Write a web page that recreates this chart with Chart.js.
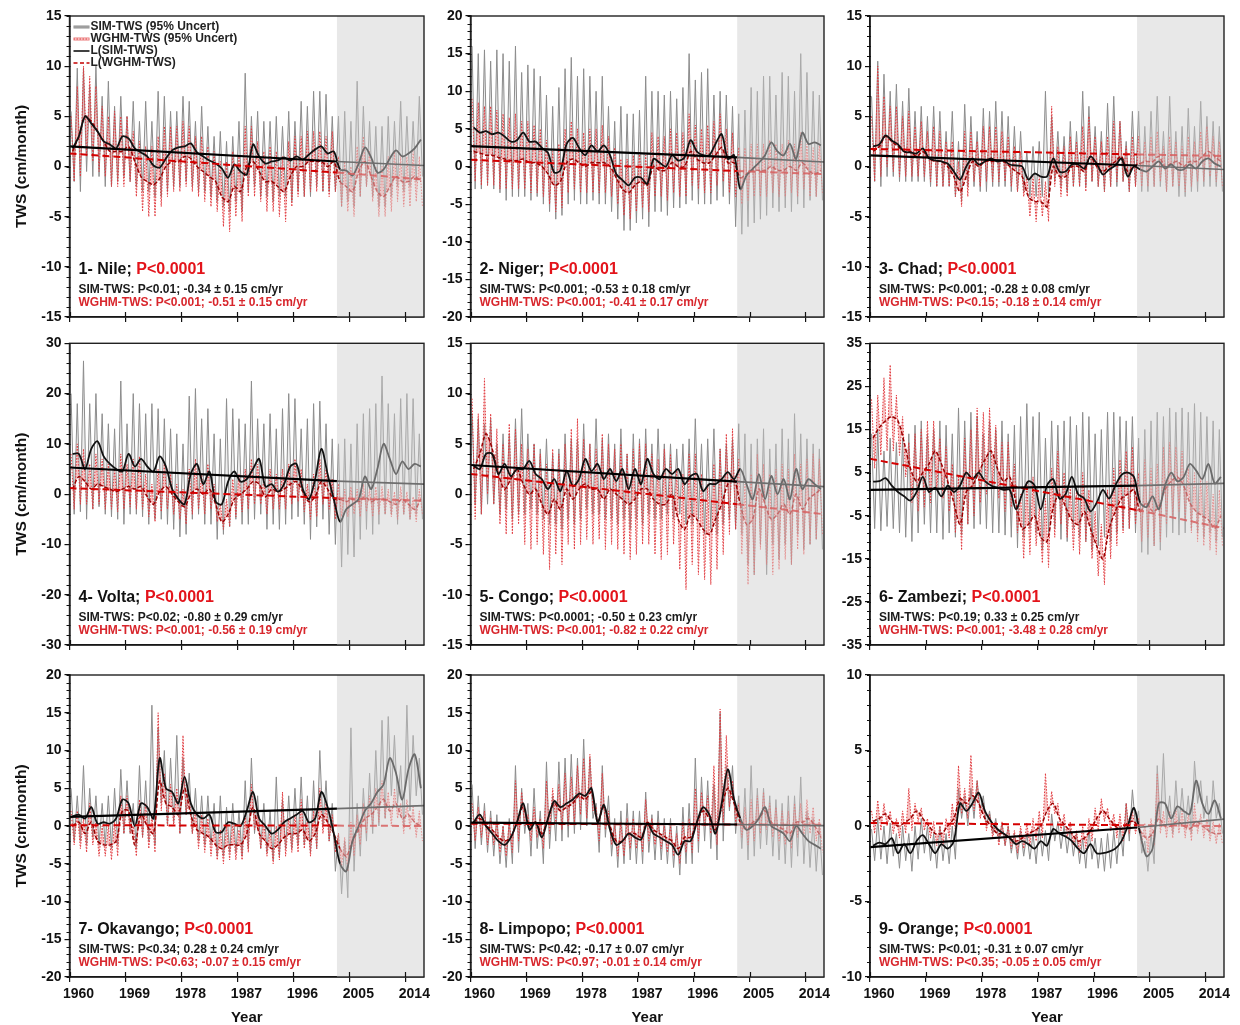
<!DOCTYPE html>
<html><head><meta charset="utf-8">
<script src="https://cdn.jsdelivr.net/npm/chart.js"></script>
<style>
html,body{margin:0;padding:0;background:#fff;}
#wrap{position:relative;width:1240px;height:1025px;overflow:hidden;background:#fff;}
#wrap canvas{position:absolute;}
</style></head><body><div id="wrap"></div>
<script>
// ---------------- DATA ----------------
const years = [1960,1961,1962,1963,1964,1965,1966,1967,1968,1969,1970,1971,1972,1973,1974,1975,1976,1977,1978,1979,1980,1981,1982,1983,1984,1985,1986,1987,1988,1989,1990,1991,1992,1993,1994,1995,1996,1997,1998,1999,2000,2001,2002,2003,2004,2005,2006,2007,2008,2009,2010,2011,2012,2013,2014,2015,2016];
const xTickYears = [1960,1969,1978,1987,1996,2005,2014];
const trendYears = [1960,2003,2017];
const yTicks15 = [-15,-10,-5,0,5,10,15];
const yTicks20 = [-20,-15,-10,-5,0,5,10,15,20];
const yTicks30 = [-30,-20,-10,0,10,20,30];
const yTicks35 = [-35,-25,-15,-5,5,15,25,35];
const yTicks10 = [-10,-5,0,5,10];

const basinNames = ['1- Nile','2- Niger','3- Chad','4- Volta','5- Congo','6- Zambezi','7- Okavango','8- Limpopo','9- Orange'];
const basinP = ['P<0.0001','P<0.0001','P<0.0001','P<0.0001','P<0.0001','P<0.0001','P<0.0001','P<0.0001','P<0.0001'];
const simStats = ['SIM-TWS: P<0.01; -0.34 ± 0.15 cm/yr','SIM-TWS: P<0.001; -0.53 ± 0.18 cm/yr','SIM-TWS: P<0.001; -0.28 ± 0.08 cm/yr','SIM-TWS: P<0.02; -0.80 ± 0.29 cm/yr','SIM-TWS: P<0.0001; -0.50 ± 0.23 cm/yr','SIM-TWS: P<0.19; 0.33 ± 0.25 cm/yr','SIM-TWS: P<0.34; 0.28 ± 0.24 cm/yr','SIM-TWS: P<0.42; -0.17 ± 0.07 cm/yr','SIM-TWS: P<0.01; -0.31 ± 0.07 cm/yr'];
const wgStats = ['WGHM-TWS: P<0.001; -0.51 ± 0.15 cm/yr','WGHM-TWS: P<0.001; -0.41 ± 0.17 cm/yr','WGHM-TWS: P<0.15; -0.18 ± 0.14 cm/yr','WGHM-TWS: P<0.001; -0.56 ± 0.19 cm/yr','WGHM-TWS: P<0.001; -0.82 ± 0.22 cm/yr','WGHM-TWS: P<0.001; -3.48 ± 0.28 cm/yr','WGHM-TWS: P<0.63; -0.07 ± 0.15 cm/yr','WGHM-TWS: P<0.97; -0.01 ± 0.14 cm/yr','WGHM-TWS: P<0.35; -0.05 ± 0.05 cm/yr'];
const legendLabels = ['SIM-TWS (95% Uncert)','WGHM-TWS (95% Uncert)','L(SIM-TWS)','L(WGHM-TWS)'];

// 1 Nile
const nileSimSm = [1.8,3.0,5.0,4.3,3.5,2.5,2.2,1.8,3.0,2.8, 1.8,1.4,1.0,0.1,-0.1,0.8,1.6,1.9,2.0,2.3, 1.4,1.0,0.6,0.3,-0.2,-1.1,0.2,-0.5,-0.8,2.2, 1.0,0.3,0.5,0.6,0.9,0.6,1.0,0.7,1.2,1.7, 2.0,1.3,1.5,-0.3,-0.4,-0.9,0.3,1.9,0.9,-0.6, -0.3,0.8,1.6,1.0,1.3,1.8,2.7];
const nileSimHi = [5.5,9.8,9.8,8.0,10.0,7.0,8.5,6.0,7.0,5.0, 6.5,4.5,6.5,4.5,7.5,7.0,5.5,5.5,7.0,6.5, 4.5,6.0,4.0,3.0,3.5,2.5,3.0,4.5,9.3,5.0, 5.5,4.5,4.5,5.0,4.0,5.5,4.5,6.5,6.0,7.5, 7.5,7.2,5.0,5.0,5.5,4.5,8.5,6.0,4.5,4.0, 4.0,5.0,4.5,6.5,5.0,4.5,7.0];
const nileSimLo = [-1.5,-2.5,-0.5,-1.0,-1.0,-2.0,-2.0,-1.5,-1.0,-1.5, -2.0,-2.5,-2.5,-3.0,-3.0,-2.5,-2.0,-2.0,-1.5,-2.0, -2.5,-2.5,-3.0,-3.5,-4.0,-4.5,-3.5,-4.5,-2.5,-2.0, -3.0,-3.0,-3.5,-3.0,-3.0,-3.5,-2.5,-3.0,-3.0,-2.0, -2.5,-2.5,-2.5,-4.0,-3.5,-4.0,-3.0,-2.0,-3.0,-4.0, -4.0,-3.0,-2.0,-2.5,-2.0,-1.5,-1.0];
const nileWgSm = [1.5,3.0,5.0,4.5,3.5,2.5,1.5,1.5,1.5,2.0, 0.5,-1.0,-1.5,-1.8,-1.2,0.0,0.5,0.5,1.0,0.8, 0.0,-0.5,-1.0,-1.5,-3.0,-3.5,-2.0,-2.5,0.0,0.5, -0.5,-1.5,-1.5,-2.0,-2.5,-1.0,0.0,0.0,0.5,0.5, 0.5,0.0,0.5,-1.5,-2.0,-2.5,-0.5,0.5,-1.0,-2.5, -3.0,-2.0,-1.0,-1.5,-1.5,-1.0,-1.5];
const nileWgHi = [5.0,8.0,10.0,9.0,8.0,6.0,5.0,5.5,5.0,5.0, 3.5,2.5,2.0,2.0,3.0,4.0,4.0,4.0,4.5,4.0, 3.0,3.0,2.0,1.5,0.5,0.5,1.5,1.0,4.0,4.0, 2.5,1.5,2.0,1.5,1.0,2.5,3.0,3.0,3.5,3.5, 3.5,3.0,3.5,1.0,0.5,0.0,2.0,3.0,1.5,0.0, 0.0,1.0,1.5,1.0,1.0,1.5,1.0];
const nileWgLo = [-1.5,-1.0,1.0,0.5,-0.5,-1.0,-2.0,-2.0,-2.0,-1.5, -3.0,-4.5,-5.0,-5.0,-4.0,-3.0,-2.5,-2.5,-2.0,-2.5, -3.0,-3.5,-4.0,-4.5,-6.0,-6.5,-5.0,-5.5,-3.0,-3.0, -3.5,-4.5,-4.5,-5.0,-5.5,-4.0,-3.0,-3.0,-2.5,-2.5, -2.5,-3.0,-2.5,-4.0,-4.5,-5.0,-3.0,-2.0,-3.5,-5.0, -5.0,-4.5,-3.5,-4.0,-4.0,-3.5,-4.0];
const nileTrSim = [2.0,0.5,0.1];
const nileTrWg = [1.3,-0.6,-1.3];

// 2 Niger
const nigerSimSm = [5.2,4.5,4.7,4.3,4.5,4.0,3.3,3.5,4.5,3.3, 3.3,2.5,1.8,-0.8,-0.5,3.0,3.8,2.5,1.5,2.8, 2.0,2.8,1.5,-1.0,-1.8,-2.5,-1.5,-1.5,-2.3,1.0, 0.5,0.0,1.5,0.8,1.2,3.5,2.0,1.5,1.5,3.0, 4.3,1.0,1.5,-3.0,-1.2,-0.3,0.5,1.5,3.2,2.0, 1.5,3.0,1.0,4.5,3.0,3.2,2.8];
const nigerSimHi = [16.0,15.0,15.5,14.0,15.5,15.0,14.0,16.0,12.5,13.5, 13.0,12.0,9.5,8.0,10.5,13.0,14.5,12.0,13.0,12.0, 10.0,12.0,8.0,6.0,8.0,7.0,7.0,7.5,12.0,10.0, 10.0,9.5,10.0,9.0,10.5,15.0,11.5,12.5,13.0,9.5, 10.0,9.5,8.0,7.0,7.5,10.5,10.0,12.0,12.0,9.5, 12.5,12.0,10.0,15.0,12.5,10.0,9.5];
const nigerSimLo = [-3.0,-3.0,-2.5,-3.0,-3.5,-4.5,-4.0,-4.0,-4.0,-4.5, -4.0,-5.0,-6.0,-7.0,-6.5,-5.0,-4.5,-5.0,-5.0,-4.5, -5.0,-5.0,-6.0,-7.0,-8.5,-8.5,-7.5,-7.0,-8.0,-6.0, -6.0,-6.5,-5.5,-5.5,-5.0,-4.5,-5.0,-5.0,-5.0,-4.5, -4.0,-5.0,-8.0,-9.0,-8.0,-7.5,-7.0,-6.5,-5.5,-6.0, -5.5,-6.0,-5.0,-5.5,-4.5,-4.0,-4.5];
const nigerWgSm = [2.0,1.8,1.5,1.5,1.2,1.0,0.8,0.8,1.0,0.5, 0.5,0.0,-1.0,-2.5,-2.0,0.5,1.0,0.5,0.0,0.5, 0.5,0.5,0.0,-1.5,-3.0,-3.5,-2.5,-2.0,-2.5,0.0, -0.5,-0.5,0.5,0.0,0.0,2.0,1.0,0.5,0.5,1.5, 2.5,0.5,0.5,-1.5,-1.0,-0.5,-0.5,-0.5,0.0,-0.5, -0.5,0.0,-0.5,0.5,-0.5,-1.0,-0.5];
const nigerWgHi = [9.0,8.5,8.0,8.0,7.5,7.0,6.5,7.0,6.0,6.0, 5.5,5.0,3.5,2.0,3.0,5.0,6.0,5.0,4.5,5.0, 5.0,5.5,4.0,2.5,1.0,1.0,1.5,2.0,1.5,4.5, 4.0,4.0,5.0,4.5,4.5,7.0,5.5,5.0,5.5,6.0, 7.0,5.0,4.5,2.5,2.5,3.0,3.0,3.0,3.5,3.0, 3.0,3.5,3.0,4.5,3.0,2.5,3.0];
const nigerWgLo = [-2.0,-2.5,-2.5,-2.5,-3.0,-3.0,-3.0,-3.0,-3.0,-3.5, -3.5,-4.0,-5.0,-6.0,-5.5,-3.5,-3.0,-3.5,-3.5,-3.5, -3.5,-3.5,-4.0,-5.0,-6.5,-7.0,-6.0,-5.5,-6.0,-4.0, -4.0,-4.5,-3.5,-4.0,-4.0,-2.5,-3.0,-3.5,-3.5,-2.5, -2.0,-3.5,-4.0,-5.0,-4.5,-4.0,-4.0,-4.0,-3.5,-4.0, -4.0,-3.5,-4.0,-3.0,-4.0,-4.0,-3.5];
const nigerTrSim = [2.7,1.2,0.6];
const nigerTrWg = [0.9,-0.6,-1.0];

// 3 Chad
const chadSimSm = [2.0,2.2,3.1,2.6,2.2,1.5,1.4,1.3,1.8,0.8, 0.6,0.5,0.3,-0.5,-1.3,0.0,0.8,0.2,0.5,0.8, 0.5,0.6,0.2,0.1,0.0,-1.3,-0.7,-1.0,-1.0,0.8, -0.5,-0.5,0.2,0.2,-0.2,1.0,0.3,-0.8,-0.3,0.1, 0.8,-1.0,0.0,-0.3,-0.5,0.0,0.5,-0.2,0.2,-0.3, -0.3,0.2,-0.2,0.5,0.8,0.3,0.0];
const chadSimHi = [7.0,10.5,9.2,7.5,8.2,6.5,7.8,5.5,6.0,5.0, 6.0,5.5,3.5,5.5,2.5,6.2,5.0,3.5,5.8,5.5, 6.5,5.5,5.0,4.0,3.5,1.5,2.0,2.5,7.5,5.0, 3.5,3.0,4.5,3.5,7.5,6.0,4.0,3.5,6.3,7.0, 4.5,2.5,5.5,5.5,4.0,5.5,7.0,3.5,7.0,3.5, 4.0,5.8,4.0,6.5,5.0,4.5,4.0];
const chadSimLo = [-1.5,-2.0,-1.0,-1.0,-1.5,-1.5,-1.5,-1.5,-1.5,-2.0, -2.0,-2.0,-2.0,-3.0,-3.5,-2.0,-2.0,-2.5,-2.5,-2.0, -2.0,-2.0,-2.5,-2.5,-2.5,-3.0,-3.0,-3.0,-3.0,-1.5, -2.0,-2.5,-2.0,-2.0,-2.0,-1.5,-2.0,-2.5,-2.0,-2.0, -1.5,-2.5,-2.0,-2.5,-2.5,-2.0,-2.0,-2.5,-2.0,-3.0, -3.0,-2.5,-2.5,-2.0,-2.0,-2.0,-2.5];
const chadWgSm = [1.5,2.0,3.0,2.5,2.0,1.5,1.5,1.0,1.5,0.8, 0.5,0.5,0.0,-1.0,-2.5,-1.0,0.5,0.0,0.5,0.5, 0.5,0.5,0.0,-0.5,-1.0,-3.0,-3.5,-3.5,-4.0,0.0, -1.0,-1.0,0.0,0.0,-0.5,1.0,0.0,-0.5,0.0,0.5, 1.0,-0.5,0.0,0.3,0.5,0.5,1.0,0.0,0.3,0.5, 0.0,0.5,0.5,1.0,1.5,1.0,0.5];
const chadWgHi = [5.0,10.0,7.0,6.0,6.0,5.0,5.5,4.0,4.5,3.5, 4.0,3.5,2.5,2.5,0.5,3.5,3.5,2.5,4.0,4.0, 4.0,3.5,3.0,2.0,1.5,-1.0,-1.0,-1.0,-1.5,6.0, 2.0,2.0,3.0,2.5,4.0,5.0,3.0,2.5,3.0,4.5, 4.5,2.0,3.0,3.0,2.5,3.0,3.5,2.0,3.0,2.5, 2.0,3.0,2.5,3.5,4.0,3.0,2.5];
const chadWgLo = [-1.5,-1.0,0.0,-0.5,-1.0,-1.0,-1.0,-1.0,-1.0,-1.5, -2.0,-2.0,-2.0,-3.0,-4.0,-3.0,-1.5,-2.0,-1.5,-1.5, -1.5,-1.5,-2.0,-2.5,-3.0,-5.0,-5.5,-5.0,-5.5,-2.0, -3.0,-3.0,-2.0,-2.0,-2.5,-1.5,-2.0,-2.5,-2.0,-1.5, -1.5,-2.5,-2.0,-2.0,-2.0,-2.0,-1.5,-2.5,-2.0,-2.0, -2.5,-2.0,-1.5,-1.5,-1.0,-1.5,-2.0];
const chadTrSim = [1.1,0.1,-0.3];
const chadTrWg = [1.75,1.2,1.05];

// 4 Volta
const voltaSimSm = [8.0,8.0,5.0,9.0,10.5,7.5,6.0,5.0,4.5,8.0, 5.5,7.0,5.5,4.5,7.5,5.5,1.0,-1.0,-2.0,4.0, 6.0,2.0,4.5,-1.5,-2.0,2.5,4.5,2.5,3.0,5.0, 7.0,1.5,2.0,0.5,2.0,5.5,6.0,1.0,-1.0,3.0, 9.0,4.0,-1.0,-5.5,-3.0,-2.0,-1.0,3.5,1.0,5.0, 10.0,7.0,4.0,6.5,5.0,6.0,5.5];
const voltaSimHi = [20.0,18.0,26.5,18.0,20.0,16.0,14.0,13.0,22.5,14.0, 20.0,18.0,16.0,18.0,17.0,15.0,13.0,12.0,10.0,19.5, 21.0,15.0,17.0,12.0,11.0,19.0,17.0,15.0,14.0,22.5, 15.0,14.0,16.0,13.0,17.0,20.0,19.0,13.0,15.0,18.0, 18.5,14.0,11.0,10.0,11.0,10.0,14.0,16.0,17.0,18.0, 23.5,18.0,16.0,19.0,20.0,19.0,12.0];
const voltaSimLo = [-4.0,-3.5,-5.0,-3.0,-2.5,-4.0,-4.5,-5.0,-6.0,-4.0, -4.0,-4.5,-6.0,-5.0,-5.0,-6.0,-7.0,-8.5,-8.0,-5.0, -4.0,-6.0,-6.0,-9.0,-8.0,-6.5,-5.0,-6.0,-6.0,-5.0, -4.0,-7.0,-6.0,-7.0,-6.0,-5.0,-4.5,-6.0,-9.0,-6.5, -5.0,-8.0,-10.0,-14.5,-12.0,-12.5,-9.0,-7.0,-8.0,-6.0, -4.0,-4.0,-6.0,-4.0,-5.0,-4.0,-5.0];
const voltaWgSm = [1.0,3.5,2.5,1.0,2.0,1.5,1.0,0.5,1.0,1.5, 1.0,1.5,-0.5,-2.0,0.5,1.5,0.0,-1.5,-2.5,0.0, 1.0,0.0,1.0,-2.0,-5.5,-4.0,-1.0,0.0,1.0,2.5, 2.0,-0.5,1.0,0.5,1.0,2.0,2.5,0.5,-1.5,-0.5, 2.5,1.0,-1.0,-1.0,-1.5,-1.0,-1.5,-0.5,-1.5,-1.0, -1.0,-1.5,-2.0,-1.0,-2.0,-3.0,-1.0];
const voltaWgHi = [8.0,10.0,9.0,6.0,8.0,7.0,6.0,5.0,8.0,6.0, 7.0,7.5,4.0,2.0,5.0,6.0,4.0,2.0,1.0,5.0, 7.0,4.0,6.0,2.0,-2.0,-1.0,3.0,4.0,5.0,7.0, 6.0,3.0,5.0,4.0,5.0,6.0,7.0,5.0,2.0,4.0, 7.0,5.0,3.0,2.0,1.0,1.5,1.0,2.0,1.0,1.5, 1.5,1.0,0.5,1.5,0.5,-0.5,1.0];
const voltaWgLo = [-3.0,-2.0,-2.0,-3.0,-2.0,-3.0,-3.0,-3.5,-3.0,-2.5, -3.0,-3.0,-4.5,-5.5,-3.5,-3.0,-4.0,-5.0,-6.0,-4.0, -3.0,-4.0,-3.0,-5.5,-7.0,-6.5,-4.5,-3.5,-3.0,-2.0, -2.0,-4.0,-3.0,-3.0,-3.0,-2.0,-1.5,-3.5,-5.0,-4.5, -2.0,-3.0,-5.0,-4.5,-4.5,-4.0,-4.5,-3.5,-4.5,-4.0, -4.0,-4.5,-5.0,-4.0,-5.0,-5.5,-4.0];
const voltaTrSim = [5.3,2.6,2.0];
const voltaTrWg = [1.2,-0.8,-1.3];

// 5 Congo
const congoSimSm = [2.8,2.5,4.0,4.0,2.0,3.0,1.8,2.5,2.5,3.3, 2.0,1.5,0.5,1.5,0.3,2.3,0.8,1.5,3.5,2.3, 3.0,1.5,2.5,1.3,2.5,0.5,2.5,1.0,3.5,2.0, 1.5,2.5,2.0,2.5,1.0,1.8,2.0,0.3,1.0,1.0, 1.5,2.2,1.5,2.5,1.0,-0.5,2.0,-0.5,1.8,0.0, 1.5,-0.5,2.5,0.5,1.5,1.0,0.5];
const congoSimHi = [8.0,7.5,7.0,7.5,5.0,6.0,6.0,7.5,8.5,6.0, 5.0,4.5,5.5,4.0,4.5,6.0,5.5,5.5,7.0,5.0, 7.5,5.5,6.0,5.0,6.5,4.0,6.0,5.5,6.5,5.0, 6.5,5.0,5.0,4.5,5.0,5.5,7.5,5.0,5.5,6.5, 4.5,5.0,5.5,7.0,6.0,5.0,5.5,6.5,4.5,5.0, 6.5,5.5,8.0,6.0,5.5,5.0,4.5];
const congoSimLo = [-1.0,-2.0,-1.0,-1.0,-2.0,-1.5,-2.5,-2.0,-2.0,-1.5, -2.0,-2.5,-3.0,-3.0,-3.5,-2.5,-3.0,-2.5,-1.5,-2.0, -2.0,-2.5,-2.5,-3.0,-2.5,-3.5,-2.5,-3.0,-2.0,-2.5, -2.5,-2.0,-2.5,-2.0,-3.0,-3.0,-2.5,-4.0,-3.5,-4.0, -3.0,-2.5,-3.5,-4.0,-7.0,-8.0,-5.0,-8.0,-5.0,-6.5, -5.0,-7.0,-4.0,-5.5,-5.0,-4.5,-5.5];
const congoWgSm = [2.5,4.0,6.0,4.5,2.0,0.5,1.5,2.5,1.0,0.0, 0.5,-1.0,-2.0,-0.5,-1.5,0.5,-0.5,0.5,1.0,0.5, 0.5,-0.5,0.5,0.0,-0.5,-1.0,-0.5,0.5,0.5,-0.5, -1.0,-1.0,0.0,-2.5,-3.5,-2.0,-2.5,-3.5,-4.0,-2.5, -1.0,1.0,1.5,-1.0,-3.0,-2.5,0.5,-1.0,-2.5,-2.0, -1.0,-2.0,0.0,-1.5,-0.5,0.0,0.5];
const congoWgHi = [9.5,8.0,11.5,8.0,6.5,5.0,7.0,6.5,5.0,4.5, 5.0,4.0,3.0,4.5,4.0,5.0,6.5,7.5,5.5,5.0, 4.5,6.0,5.0,4.5,5.0,4.0,4.5,5.0,5.0,4.0, 3.5,4.5,4.0,2.5,2.0,4.0,4.0,2.0,1.0,3.0, 4.5,6.0,6.5,3.5,1.0,2.0,4.0,3.0,2.0,2.5, 3.0,2.5,4.0,3.0,3.5,4.0,3.5];
const congoWgLo = [-2.5,-2.0,0.0,-1.0,-3.0,-4.0,-4.0,-3.0,-5.0,-5.5, -5.0,-6.0,-7.5,-6.0,-7.0,-5.0,-5.5,-5.0,-4.5,-5.0, -4.5,-5.5,-5.0,-5.5,-6.0,-6.5,-6.0,-5.0,-5.0,-6.0, -6.5,-6.0,-5.0,-7.5,-9.5,-7.0,-8.0,-8.5,-9.0,-7.5, -6.0,-4.0,-3.5,-6.0,-9.0,-8.0,-5.5,-7.0,-8.0,-7.5, -6.5,-7.0,-5.5,-6.0,-5.0,-4.5,-4.0];
const congoTrSim = [2.9,1.25,0.75];
const congoTrWg = [2.0,-1.0,-2.0];

// 6 Zambezi
const zambSimSm = [2.9,3.0,3.7,2.0,0.5,-0.5,-1.5,0.5,4.0,0.5, 1.5,-0.5,2.0,0.5,2.0,5.0,3.5,5.0,3.0,2.0, 1.5,1.0,1.0,-3.5,0.0,3.0,2.0,-3.5,2.0,3.5, -1.0,0.0,4.0,0.0,-1.0,-4.0,-2.0,1.0,-1.0,2.0, 4.5,5.0,4.0,-2.0,-3.0,-0.5,-3.5,2.0,5.0,3.0, 4.0,7.0,5.5,3.5,7.0,2.5,4.0];
const zambSimHi = [14.0,15.0,10.0,13.0,12.0,13.0,14.0,16.0,17.0,14.0, 15.0,17.0,16.0,14.0,20.0,17.0,19.0,18.0,14.0,17.0, 15.0,17.0,14.0,16.0,18.0,21.0,18.0,19.0,13.0,17.0, 16.0,17.0,18.0,16.0,19.0,18.0,14.0,15.0,19.0,19.0, 18.0,17.0,18.0,13.0,15.0,17.0,19.0,18.0,20.0,19.0, 20.0,19.0,21.0,19.0,18.0,17.0,15.0];
const zambSimLo = [-8.0,-8.5,-7.5,-8.0,-9.0,-10.0,-11.0,-9.0,-7.0,-9.0, -9.0,-10.5,-9.0,-10.0,-9.5,-7.0,-8.0,-7.0,-8.0,-9.0, -9.0,-9.5,-10.0,-12.5,-10.0,-8.0,-9.0,-13.0,-9.0,-8.0, -10.5,-11.0,-8.0,-10.0,-11.0,-13.0,-12.0,-10.0,-11.0,-9.0, -8.0,-8.0,-9.0,-13.5,-14.0,-12.0,-13.0,-10.0,-9.0,-9.5, -9.0,-8.0,-9.0,-10.0,-9.0,-11.0,-10.0];
const zambWgSm = [13.0,15.5,17.0,18.0,17.0,12.0,6.0,3.0,5.0,7.0, 10.0,7.0,3.0,-2.0,-7.0,0.5,2.0,5.0,8.0,10.0, 6.0,3.0,4.0,-2.0,-8.0,-7.0,-5.0,-10.0,-11.0,-3.0, 0.0,-3.0,-6.0,-7.0,-4.0,-8.0,-12.0,-15.0,-8.0,-4.0, -1.0,0.0,1.0,-4.0,-2.0,-4.0,-3.0,1.0,3.0,4.0, 2.0,-2.0,-4.0,-5.0,-6.0,-8.0,-5.0];
const zambWgHi = [22.0,23.0,27.0,30.0,23.0,18.0,12.0,14.0,15.0,17.0, 17.0,13.0,11.0,7.0,4.0,13.0,15.0,20.0,19.0,20.0, 16.0,12.0,12.0,7.0,0.0,3.0,4.0,-3.0,-1.0,6.0, 10.0,5.0,2.0,1.0,5.0,1.0,-4.0,-7.0,1.0,6.0, 8.0,10.0,11.0,5.0,8.0,6.0,7.0,11.0,12.0,11.0, 10.0,6.0,5.0,4.0,3.0,0.0,1.0];
const zambWgLo = [6.0,9.0,10.0,10.0,9.0,4.0,-2.0,-4.0,-3.0,-2.0, 1.0,-1.0,-4.0,-9.0,-13.0,-7.0,-5.0,-2.0,0.0,2.0, -1.0,-4.0,-3.0,-9.0,-15.0,-14.0,-12.0,-16.0,-17.0,-10.0, -7.0,-10.0,-13.0,-14.0,-11.0,-15.0,-19.0,-21.0,-15.0,-12.0, -9.0,-8.0,-7.0,-11.0,-10.0,-12.0,-11.0,-7.0,-5.0,-4.0, -6.0,-9.0,-11.0,-12.0,-13.0,-14.0,-12.0];
const zambTrSim = [1.0,2.0,2.5];
const zambTrWg = [8.2,-3.7,-7.9];

// 7 Okavango
const okaSimSm = [1.3,1.5,1.0,2.5,0.3,0.5,0.3,1.0,3.5,3.0, 0.0,3.0,2.5,1.0,9.0,5.0,4.5,3.0,6.5,3.0, 1.5,1.0,1.5,-0.8,-0.8,0.5,0.3,0.0,2.0,4.5, 1.0,0.0,-1.0,-0.5,0.5,1.0,1.5,2.0,0.5,1.0, 4.5,2.5,-1.0,-5.0,-6.0,-2.0,0.0,2.0,3.0,4.5, 5.5,9.0,7.0,3.5,7.5,9.5,5.0];
const okaSimHi = [5.0,4.0,8.0,5.0,4.0,3.0,4.0,5.0,7.5,6.0, 3.0,8.0,6.0,16.0,13.0,10.0,9.0,12.0,9.0,7.0, 5.0,4.0,4.0,3.0,4.0,2.5,3.0,2.0,6.0,9.0, 4.0,3.0,2.0,6.5,3.5,4.0,5.0,6.5,4.0,6.0, 10.0,6.0,3.0,-1.0,-2.0,13.0,3.0,5.0,7.0,10.0, 14.0,14.5,12.0,8.0,16.0,12.0,9.0];
const okaSimLo = [-2.0,-2.0,-2.5,-1.5,-2.5,-2.5,-3.0,-2.5,-1.0,-1.0, -3.0,-1.5,-2.0,-2.5,3.0,0.0,0.5,-1.0,1.5,-1.0, -2.0,-2.5,-2.5,-4.0,-4.0,-3.5,-3.5,-4.0,-3.0,-1.0, -3.0,-3.5,-4.5,-4.0,-3.0,-3.0,-2.5,-2.5,-3.5,-3.0, 0.0,-2.0,-6.0,-9.0,-9.5,-6.0,-4.0,-2.0,-1.0,0.0, 1.0,4.0,3.0,0.0,2.0,4.0,1.5];
const okaWgSm = [0.0,0.5,-1.0,0.5,-2.0,-2.5,-2.5,-2.0,2.0,2.0, -2.5,1.5,0.0,-1.0,6.0,3.0,2.5,1.5,5.0,1.5, -0.5,-1.0,-1.5,-2.5,-3.0,-2.5,-2.5,-2.5,-1.0,2.5, -1.0,-2.0,-3.0,-2.5,-1.5,-1.0,-1.0,-0.5,-2.0,-1.0, 1.5,0.5,-1.0,-3.0,-4.0,-2.0,-0.5,1.0,1.5,2.5, 3.5,2.0,3.0,1.0,1.5,0.5,0.0];
const okaWgHi = [2.0,2.0,1.0,3.0,0.5,0.0,0.0,0.5,4.0,4.0, 0.0,3.5,3.0,1.5,15.0,7.0,5.5,5.0,12.0,4.0, 2.0,1.5,1.0,0.0,-0.5,0.0,0.5,-0.5,1.5,5.5, 1.5,0.5,-0.5,0.0,4.5,1.0,1.5,3.5,1.0,2.0, 5.0,3.0,1.5,-1.0,-1.5,0.5,1.5,3.0,4.0,5.0, 6.0,4.5,5.0,3.0,3.5,2.5,2.0];
const okaWgLo = [-2.5,-3.0,-3.5,-2.5,-4.0,-4.0,-4.5,-4.0,-1.0,-1.0, -4.0,-1.5,-3.0,-3.5,2.0,0.0,0.0,-1.0,1.5,-1.0, -3.0,-3.5,-4.0,-4.5,-5.0,-4.5,-4.5,-4.5,-3.5,-0.5, -3.0,-4.0,-5.0,-4.5,-4.0,-3.5,-3.5,-3.0,-4.0,-3.0, -1.0,-2.0,-3.5,-5.5,-6.0,-4.0,-2.5,-1.0,0.0,0.5, 1.0,0.0,1.0,-1.0,-0.5,-1.5,-2.0];
const okaTrSim = [1.2,2.3,2.7];
const okaTrWg = [0.1,0.05,0.0];

// 8 Limpopo
const limSimSm = [0.5,1.5,0.0,-1.0,-2.0,-2.5,-1.5,0.5,3.0,-0.5, 0.5,-1.5,1.0,3.3,2.5,3.0,3.5,4.3,4.0,5.0, 0.5,2.8,-0.5,-2.5,-2.0,-1.0,-1.5,-1.8,0.3,-1.0, -1.5,-2.0,-2.5,-3.8,-2.0,-2.0,0.5,2.5,1.5,-1.0, 3.0,7.5,3.5,1.0,-0.5,0.0,1.0,2.5,0.0,-0.5, -1.0,-2.0,0.0,-1.0,-2.0,-2.5,-3.0];
const limSimHi = [5.5,4.0,3.0,2.0,1.5,0.0,1.0,8.0,5.0,3.0, 5.0,2.0,8.5,4.0,8.5,9.0,9.5,9.0,11.5,9.0, 3.0,8.0,4.0,1.0,2.0,3.0,2.0,2.0,4.5,1.5, 2.0,1.0,1.0,0.0,2.5,3.0,9.0,6.5,6.0,5.5, 15.0,8.0,8.0,4.0,5.0,8.0,5.0,5.0,4.0,3.5, 3.0,4.0,4.0,6.5,2.0,1.0,0.0];
const limSimLo = [-3.0,-2.5,-3.5,-4.0,-5.0,-5.5,-5.0,-3.5,-1.0,-4.0, -3.0,-5.0,-3.0,-2.0,-2.0,-1.5,-1.0,-0.5,0.0,1.0, -3.5,-1.5,-4.0,-5.5,-5.0,-4.5,-5.0,-5.0,-3.5,-4.5, -4.5,-5.0,-5.5,-6.5,-5.0,-5.0,-3.5,-2.0,-3.0,-4.5, -2.0,2.0,-1.0,-3.0,-4.5,-4.0,-3.0,-2.5,-4.0,-4.5, -5.0,-5.5,-4.0,-5.0,-5.5,-6.0,-6.5];
const limWgSm = [0.5,1.0,0.0,-0.5,-1.5,-2.0,-1.5,0.5,2.5,0.0, 0.5,-1.0,1.0,3.0,2.0,2.5,3.0,4.0,3.5,4.5, 0.5,2.5,0.0,-2.0,-2.0,-1.0,-1.0,-1.5,0.5,-0.5, -1.0,-1.5,-2.0,-3.0,-1.5,-1.5,0.5,2.0,1.0,-0.5, 2.5,5.0,3.0,0.5,-0.5,0.5,1.0,2.0,0.5,0.0, -0.5,-1.0,0.5,0.5,1.0,0.0,-1.5];
const limWgHi = [3.0,2.5,2.0,1.0,0.5,0.0,0.5,6.0,4.5,1.5, 2.5,1.0,6.0,5.0,5.5,7.0,6.5,8.0,9.0,9.5, 2.5,7.0,2.0,0.0,0.5,1.0,1.0,0.5,3.5,1.0, 0.5,0.0,0.0,-1.0,0.5,1.0,5.0,4.5,4.0,8.0, 15.5,12.0,6.0,3.0,2.5,3.5,4.0,4.5,3.0,2.5, 2.0,2.0,3.0,3.0,3.5,2.5,1.0];
const limWgLo = [-2.0,-1.5,-2.5,-2.5,-3.5,-4.0,-3.5,-2.0,0.0,-2.0, -1.5,-3.0,-1.0,0.5,-0.5,0.0,0.5,1.5,1.0,2.0, -2.0,-0.5,-2.5,-4.0,-4.0,-3.0,-3.0,-3.5,-2.0,-2.5, -3.0,-3.5,-4.0,-5.0,-3.5,-3.5,-2.0,0.0,-1.0,-2.5, 0.5,2.5,0.5,-1.5,-2.5,-2.0,-1.0,-0.5,-1.5,-2.0, -2.5,-3.0,-1.5,-1.5,-1.0,-2.0,-3.5];
const limTrSim = [0.45,0.2,0.05];
const limTrWg = [0.3,0.2,0.15];

// 9 Orange
const oraSimSm = [-1.3,-1.1,-1.2,-0.8,-1.8,-1.2,-1.8,-1.0,-0.6,-1.2, -1.8,-1.2,-1.5,-1.0,1.5,1.0,1.5,2.2,1.0,0.3, -0.2,-0.5,-0.8,-1.2,-1.0,-1.2,-1.5,-1.0,-1.3,-0.2, -0.5,-0.7,-1.0,-1.5,-1.8,-1.2,-1.8,-1.8,-1.7,-1.5, -1.0,0.0,1.2,-0.5,-2.0,-1.5,1.5,1.5,0.5,1.3, 1.0,0.8,3.0,1.5,0.8,1.7,0.5];
const oraSimHi = [-0.2,0.5,0.0,0.2,-0.5,0.0,-0.5,0.0,0.5,0.0, -0.5,0.0,-0.5,0.0,2.5,2.0,2.5,3.0,2.0,1.0, 0.5,0.2,0.0,-0.5,-0.3,-0.5,-0.5,0.0,-0.3,0.8, 0.3,0.0,-0.2,-0.5,-0.8,-0.2,-0.8,-0.8,-0.5,-0.3, 0.0,1.5,2.4,1.0,-1.0,-0.5,4.0,4.8,2.0,3.0, 2.5,2.0,4.3,3.0,2.0,3.0,1.5];
const oraSimLo = [-2.3,-2.2,-2.5,-2.0,-2.8,-2.3,-3.0,-2.2,-1.8,-2.3, -2.8,-2.3,-2.5,-2.2,0.5,0.0,0.5,1.0,0.0,-0.5, -1.0,-1.3,-1.8,-2.2,-2.0,-2.2,-2.5,-2.0,-2.3,-1.0, -1.5,-1.8,-2.0,-2.5,-2.8,-2.2,-2.8,-3.0,-2.8,-2.5, -2.0,-1.0,0.0,-1.8,-3.0,-2.5,0.0,0.0,-0.5,0.0, 0.0,-0.5,1.5,0.5,-0.5,0.5,-0.5];
const oraWgSm = [0.3,0.5,0.8,0.3,0.0,0.2,0.5,1.0,0.5,0.0, -0.5,-0.5,0.0,0.5,1.8,1.5,2.0,1.5,0.5,0.0, -0.5,-0.5,-0.8,-1.0,-0.8,-0.5,-0.3,0.0,1.0,1.5, 0.5,0.0,-0.5,-1.0,-0.8,-0.3,0.5,1.0,0.5,0.0, -0.2,0.2,0.3,-0.3,-0.8,-0.5,0.5,0.0,0.0,0.3, 0.0,-0.2,0.3,0.0,-0.3,-0.5,-0.5];
const oraWgHi = [1.0,1.7,1.5,1.0,0.5,1.0,2.5,1.5,1.2,0.5, 0.3,0.0,0.5,1.5,4.0,2.5,4.7,3.0,1.5,0.8, 0.3,0.3,0.0,-0.3,0.0,0.2,0.5,1.0,3.5,2.3, 1.5,0.8,0.3,-0.3,0.0,0.5,1.2,1.8,1.2,0.8, 0.8,1.5,1.0,0.5,0.2,0.5,3.5,1.0,1.0,1.2, 1.0,0.8,1.5,0.8,0.5,0.3,0.2];
const oraWgLo = [-0.5,-0.3,0.0,-0.5,-0.8,-0.5,-0.3,0.3,-0.3,-0.8, -1.3,-1.3,-0.8,-0.3,0.8,0.5,1.0,0.5,-0.3,-0.8, -1.3,-1.3,-1.5,-1.8,-1.5,-1.3,-1.0,-0.8,0.3,0.8, -0.3,-0.8,-1.3,-1.8,-1.5,-1.0,-0.3,0.3,-0.3,-0.8, -1.0,-0.5,-0.5,-1.2,-1.8,-1.3,-0.5,-0.8,-0.8,-0.5, -0.8,-1.0,-0.5,-0.8,-1.0,-1.2,-1.2];
const oraTrSim = [-1.4,-0.1,0.46];
const oraTrWg = [0.2,0.05,0.0];

// ---------------- LAYOUT / STYLE ----------------
const X_MIN = 1960, X_MAX = 2017, SHADE_FROM = 2003;
const COLS = [{x:0,w:430,yw:69.5,rp:6},{x:430,w:400,yw:40.5,rp:6},{x:830,w:400,yw:40,rp:6}];
const ROWS = [{y:0,h:330,top:16,xh:13},{y:330,h:330,top:13.3,xh:15},{y:660,h:365,top:15,xh:48}];
const FONT = '"Liberation Sans", Arial, Helvetica, sans-serif';
const RED = '#e3141b';

Chart.defaults.font.family = FONT;
Chart.defaults.color = '#000';
Chart.defaults.animation = false;

const panels = [
 {sm:nileSimSm, hi:nileSimHi, lo:nileSimLo, wsm:nileWgSm, whi:nileWgHi, wlo:nileWgLo, tS:nileTrSim, tW:nileTrWg, yMin:-15, yMax:15, ticks:yTicks15, minor:1},
 {sm:nigerSimSm, hi:nigerSimHi, lo:nigerSimLo, wsm:nigerWgSm, whi:nigerWgHi, wlo:nigerWgLo, tS:nigerTrSim, tW:nigerTrWg, yMin:-20, yMax:20, ticks:yTicks20, minor:1},
 {sm:chadSimSm, hi:chadSimHi, lo:chadSimLo, wsm:chadWgSm, whi:chadWgHi, wlo:chadWgLo, tS:chadTrSim, tW:chadTrWg, yMin:-15, yMax:15, ticks:yTicks15, minor:1},
 {sm:voltaSimSm, hi:voltaSimHi, lo:voltaSimLo, wsm:voltaWgSm, whi:voltaWgHi, wlo:voltaWgLo, tS:voltaTrSim, tW:voltaTrWg, yMin:-30, yMax:30, ticks:yTicks30, minor:2},
 {sm:congoSimSm, hi:congoSimHi, lo:congoSimLo, wsm:congoWgSm, whi:congoWgHi, wlo:congoWgLo, tS:congoTrSim, tW:congoTrWg, yMin:-15, yMax:15, ticks:yTicks15, minor:1},
 {sm:zambSimSm, hi:zambSimHi, lo:zambSimLo, wsm:zambWgSm, whi:zambWgHi, wlo:zambWgLo, tS:zambTrSim, tW:zambTrWg, yMin:-35, yMax:35, ticks:yTicks35, minor:2},
 {sm:okaSimSm, hi:okaSimHi, lo:okaSimLo, wsm:okaWgSm, whi:okaWgHi, wlo:okaWgLo, tS:okaTrSim, tW:okaTrWg, yMin:-20, yMax:20, ticks:yTicks20, minor:1},
 {sm:limSimSm, hi:limSimHi, lo:limSimLo, wsm:limWgSm, whi:limWgHi, wlo:limWgLo, tS:limTrSim, tW:limTrWg, yMin:-20, yMax:20, ticks:yTicks20, minor:1},
 {sm:oraSimSm, hi:oraSimHi, lo:oraSimLo, wsm:oraWgSm, whi:oraWgHi, wlo:oraWgLo, tS:oraTrSim, tW:oraTrWg, yMin:-10, yMax:10, ticks:yTicks10, minor:1}
];

function zig(hi, lo){ const pts=[]; years.forEach((y,i)=>{ pts.push({x:y+0.25,y:hi[i]}); pts.push({x:y+0.75,y:lo[i]}); }); return pts; }
function smooth(v){ return years.map((y,i)=>({x:y+0.5,y:v[i]})); }
function trend(v){ return trendYears.map((y,i)=>({x:y,y:v[i]})); }
const after = c => c.p0.parsed.x >= SHADE_FROM;
const seg = (dark, light) => ({ borderColor: c => after(c) ? light : dark });

const decor = {
  id: 'decor',
  beforeDatasetsDraw(chart){
    const {ctx, chartArea:a, scales:{x}} = chart;
    const xs = x.getPixelForValue(SHADE_FROM);
    ctx.save(); ctx.fillStyle = '#e8e8e8'; ctx.fillRect(xs, a.top, a.right - xs, a.bottom - a.top); ctx.restore();
  },
  afterDraw(chart){
    const {ctx, chartArea:a, scales:{x, y}} = chart;
    const o = chart.options.plugins.decor;
    ctx.save();
    ctx.strokeStyle = '#222'; ctx.lineWidth = 1.4;
    ctx.strokeRect(a.left, a.top, a.right - a.left, a.bottom - a.top);
    ctx.lineWidth = 1; ctx.strokeStyle = '#111';
    for (let v = o.yMin; v <= o.yMax + 1e-9; v += o.minor){
      const py = Math.round(y.getPixelForValue(v)) + 0.5;
      ctx.beginPath(); ctx.moveTo(a.left - 3, py); ctx.lineTo(a.left + 1, py); ctx.stroke();
    }
    ctx.lineWidth = 1.2;
    xTickYears.forEach(v => { const px = Math.round(x.getPixelForValue(v)) + 0.5; ctx.beginPath(); ctx.moveTo(px, a.bottom); ctx.lineTo(px, a.bottom - 5); ctx.stroke(); });
    ctx.textBaseline = 'middle'; ctx.textAlign = 'left';
    const tx = a.left + 9;
    ctx.font = 'bold 16px ' + FONT; ctx.fillStyle = '#111';
    const t1 = o.name + '; ';
    ctx.fillText(t1, tx, a.bottom - 47);
    const w1 = ctx.measureText(t1).width;
    ctx.fillStyle = RED; ctx.fillText(o.p, tx + w1, a.bottom - 47);
    ctx.font = 'bold 12px ' + FONT;
    ctx.fillStyle = '#1a1a1a'; ctx.fillText(o.s1, tx, a.bottom - 27.5);
    ctx.fillStyle = '#d8262c'; ctx.fillText(o.s2, tx, a.bottom - 14);
    if (o.legend){
      const lx0 = a.left + 4, lx1 = a.left + 20, ltx = a.left + 21;
      const rows = [a.top + 11, a.top + 23, a.top + 35, a.top + 47];
      ctx.lineCap = 'butt';
      ctx.strokeStyle = 'rgba(150,150,150,0.55)'; ctx.lineWidth = 4; ctx.setLineDash([]);
      ctx.beginPath(); ctx.moveTo(lx0, rows[0]); ctx.lineTo(lx1, rows[0]); ctx.stroke();
      ctx.strokeStyle = '#777'; ctx.lineWidth = 1;
      ctx.beginPath(); ctx.moveTo(lx0, rows[0]); ctx.lineTo(lx1, rows[0]); ctx.stroke();
      ctx.strokeStyle = 'rgba(235,120,120,0.5)'; ctx.lineWidth = 4;
      ctx.beginPath(); ctx.moveTo(lx0, rows[1]); ctx.lineTo(lx1, rows[1]); ctx.stroke();
      ctx.strokeStyle = '#e0393e'; ctx.lineWidth = 1; ctx.setLineDash([1.5,1.5]);
      ctx.beginPath(); ctx.moveTo(lx0, rows[1]); ctx.lineTo(lx1, rows[1]); ctx.stroke();
      ctx.setLineDash([]); ctx.strokeStyle = '#111'; ctx.lineWidth = 1.6;
      ctx.beginPath(); ctx.moveTo(lx0, rows[2]); ctx.lineTo(lx1, rows[2]); ctx.stroke();
      ctx.setLineDash([4,2.5]); ctx.strokeStyle = '#c40000'; ctx.lineWidth = 1.6;
      ctx.beginPath(); ctx.moveTo(lx0, rows[3]); ctx.lineTo(lx1, rows[3]); ctx.stroke();
      ctx.setLineDash([]);
      ctx.font = 'bold 12px ' + FONT; ctx.fillStyle = '#222';
      legendLabels.forEach((t,i) => ctx.fillText(t, ltx, rows[i]));
    }
    ctx.restore();
  }
};

const wrap = document.getElementById('wrap');
panels.forEach((p, idx) => {
  const col = idx % 3, row = Math.floor(idx / 3);
  const C = COLS[col], R = ROWS[row];
  const cv = document.createElement('canvas');
  cv.width = C.w; cv.height = R.h;
  cv.style.left = C.x + 'px'; cv.style.top = R.y + 'px';
  cv.style.width = C.w + 'px'; cv.style.height = R.h + 'px';
  wrap.appendChild(cv);
  new Chart(cv, {
    type: 'line',
    data: { datasets: [
      { data: trend(p.tS), borderColor:'#000', borderWidth:2.2, pointRadius:0, tension:0,
        segment: { borderColor: c => after(c) ? '#6e6e6e' : '#000', borderWidth: c => after(c) ? 1.7 : 2.2 } },
      { data: trend(p.tW), borderColor:'#d40000', borderWidth:2, borderDash:[7,4], pointRadius:0, tension:0,
        segment: { borderColor: c => after(c) ? 'rgba(215,95,95,0.85)' : '#d40000' } },
      { data: smooth(p.sm), borderColor:'#111', borderWidth:1.8, pointRadius:0, tension:0.3,
        segment: seg('#111', '#6a6a6a') },
      { data: smooth(p.wsm), borderColor:'#a00000', borderWidth:1.5, borderDash:[4,2], pointRadius:0, tension:0.3,
        segment: seg('#9a0000', 'rgba(190,80,80,0.75)') },
      { data: zig(p.whi, p.wlo), borderColor:'#e0393e', borderWidth:1, borderDash:[1.5,1.5], pointRadius:0, tension:0,
        fill: 3, backgroundColor:'rgba(232,80,80,0.34)',
        segment: { borderColor: c => after(c) ? 'rgba(225,120,120,0.75)' : '#e0393e',
                   backgroundColor: c => after(c) ? 'rgba(235,130,130,0.32)' : 'rgba(232,80,80,0.34)' } },
      { data: zig(p.hi, p.lo), borderColor:'#8c8c8c', borderWidth:1, pointRadius:0, tension:0,
        fill: 2, backgroundColor:'rgba(140,140,140,0.14)',
        segment: { borderColor: c => after(c) ? '#aaaaaa' : '#8c8c8c' } }
    ]},
    options: {
      responsive: false, animation: false, events: [],
      layout: { padding: { left: 0, top: R.top, right: C.rp, bottom: 0 } },
      plugins: {
        legend: { display: false }, tooltip: { enabled: false },
        decor: { name: basinNames[idx], p: basinP[idx], s1: simStats[idx], s2: wgStats[idx],
                 yMin: p.yMin, yMax: p.yMax, minor: p.minor, legend: idx === 0 }
      },
      scales: {
        x: {
          type: 'linear', min: X_MIN, max: X_MAX,
          afterBuildTicks: s => { s.ticks = xTickYears.map(v => ({ value: v })); },
          afterFit: s => { s.height = R.xh; },
          grid: { display: true, drawOnChartArea: false, drawTicks: true, tickLength: 5, color: '#111', lineWidth: 1.2 },
          border: { display: true, color: '#000', width: 1.6 },
          ticks: { display: row === 2, autoSkip: false, maxRotation: 0, labelOffset: 9, padding: 4,
                   font: { size: 14, weight: 'bold', family: FONT }, color: '#111', callback: v => String(v) },
          title: { display: row === 2, text: 'Year', color: '#111', padding: { top: 0, bottom: 0 },
                   font: { size: 15, weight: 'bold', family: FONT, lineHeight: 1 } }
        },
        y: {
          type: 'linear', min: p.yMin, max: p.yMax,
          afterBuildTicks: s => { s.ticks = p.ticks.map(v => ({ value: v })); },
          afterFit: s => { s.width = C.yw; },
          grid: { display: true, drawOnChartArea: false, drawTicks: true, tickLength: 5, color: '#111', lineWidth: 1.2 },
          border: { display: true, color: '#000', width: 1.6 },
          ticks: { padding: 3, font: { size: 14, weight: 'bold', family: FONT }, color: '#111', callback: v => String(v) },
          title: { display: col === 0, text: 'TWS (cm/month)', color: '#111', padding: { top: 14, bottom: 0 },
                   font: { size: 15.5, weight: 'bold', family: FONT, lineHeight: 1 } }
        }
      }
    },
    plugins: [decor]
  });
});
</script>
</body></html>
